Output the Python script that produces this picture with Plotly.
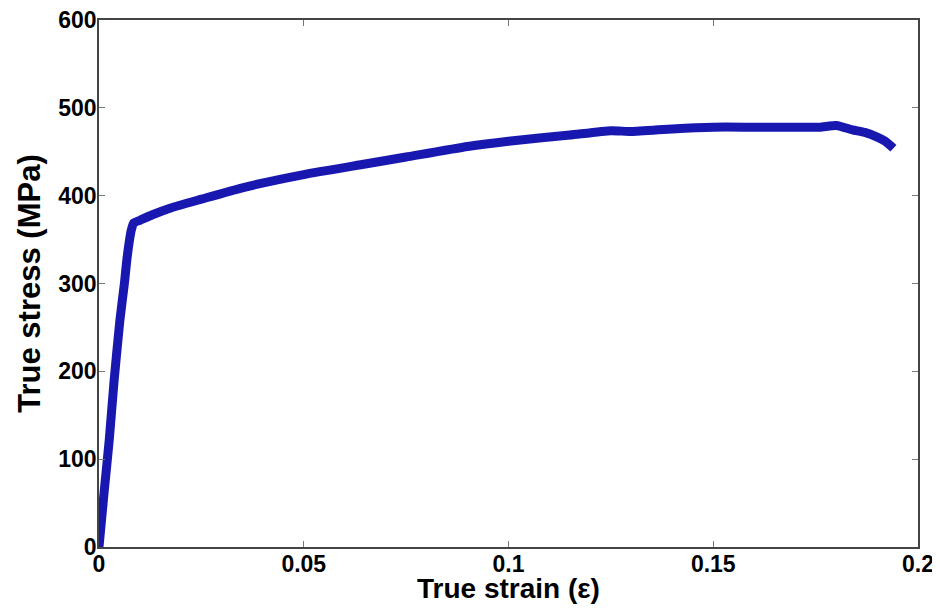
import plotly.graph_objects as go

strain = [0.0, 0.0012, 0.0025, 0.0037, 0.0051, 0.0062, 0.0068, 0.0074, 0.0079, 0.0085,
          0.0100, 0.0129, 0.0175, 0.025, 0.035, 0.05, 0.065, 0.075, 0.09, 0.1, 0.115,
          0.125, 0.13, 0.14, 0.15, 0.16, 0.17, 0.176, 0.1801, 0.184, 0.187, 0.1899, 0.192, 0.194]
stress = [0, 60, 122, 190, 258, 300, 327, 348, 361, 369,
          372, 378, 386, 396, 409, 424, 436, 444, 456, 462, 469,
          474, 473, 476, 478, 478, 478, 478, 480, 475, 472, 467, 462, 454]

x_ticks = [0, 0.05, 0.1, 0.15, 0.2]
x_labels = ["0", "0.05", "0.1", "0.15", "0.2"]
y_ticks = [0, 100, 200, 300, 400, 500, 600]
x_title = "True strain (ε)"
y_title = "True stress (MPa)"

FONT = "Liberation Sans, Arial"

fig = go.Figure()
fig.add_trace(go.Scatter(x=strain, y=stress, mode="lines",
                         line=dict(color="#1818b0", width=9, shape="spline", smoothing=0.5),
                         showlegend=False))

axis_common = dict(showgrid=False, zeroline=False, showline=True, linecolor="#444444",
                   linewidth=1.5, mirror="ticks", ticks="inside", ticklen=6,
                   tickcolor="#777777", tickwidth=1, automargin=False,
                   ticklabeloverflow="allow",
                   tickfont=dict(family=FONT, size=23, color="black", weight="bold"))

fig.update_xaxes(range=[0, 0.2], tickvals=x_ticks, ticktext=x_labels,
                 ticklabelstandoff=-4, **axis_common)
fig.update_yaxes(range=[0, 600], tickvals=y_ticks,
                 ticklabelstandoff=-4,
                 title=dict(text=y_title, standoff=8,
                            font=dict(family=FONT, size=31, color="black", weight="bold")),
                 **axis_common)

fig.add_annotation(text=x_title, xref="paper", yref="paper", x=0.5, y=0,
                   xanchor="center", yanchor="middle", yshift=-41, showarrow=False,
                   font=dict(family=FONT, size=28, color="black", weight="bold"))

fig.update_layout(width=930, height=596, margin=dict(l=91, r=20, t=12, b=57),
                  plot_bgcolor="white", paper_bgcolor="white")
fig.write_html("out.html")
